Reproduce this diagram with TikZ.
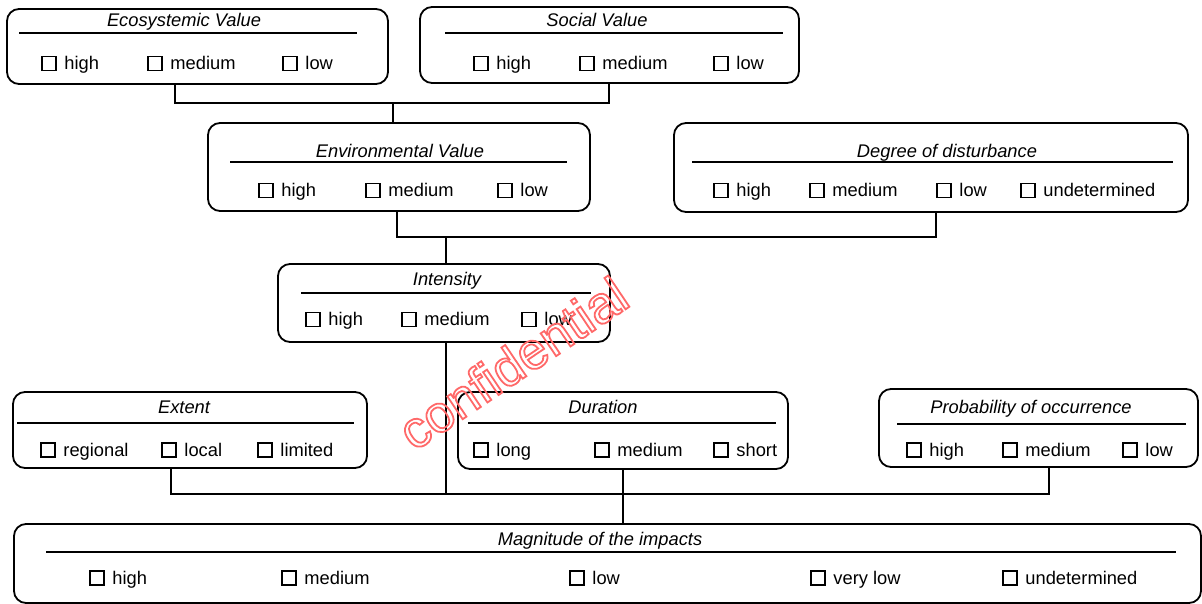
\documentclass[tikz,border=0pt]{standalone}
\usepackage{fontspec}
\setmainfont{Liberation Sans}
\definecolor{wmred}{RGB}{255,105,105}
\tikzset{
  critbox/.style={draw, line width=1.8pt, rounded corners=12pt, inner sep=0pt, outer sep=0pt},
  crittitle/.style={font=\fontsize{18.3}{21}\selectfont\itshape, anchor=base, inner sep=0pt},
  opttext/.style={font=\fontsize{18.3}{21}\selectfont, inner sep=0pt, anchor=base west},
  chk/.style={draw, line width=1.6pt, minimum size=14pt, inner sep=0pt, outer sep=0pt},
  uline/.style={line width=1.6pt},
  link/.style={line width=1.8pt},
  wmark/.style={font=\fontsize{52}{60}\selectfont, text=wmred, inner sep=0pt}
}
\newcommand\ckopt[4]{%
  \node[chk] (#1) at (#2+7.75,#3) {};
  \node[opttext] (#1t) at ([xshift=8.5pt,yshift=0.8pt]#1.south east) {#4};
}
\begin{document}
\begin{tikzpicture}[x=1pt,y=-1pt]
\useasboundingbox (0,0) rectangle (1202,604);

% Ecosystemic Value
\node[critbox, minimum width=381pt, minimum height=75pt] (eco) at (197.5,46.5) {};
\node[crittitle] (ecoT) at (184,27) {Ecosystemic Value};
\draw[uline] (19,33) -- (357,33);
\ckopt{eco1}{41}{63.5}{high}
\ckopt{eco2}{147}{63.5}{medium}
\ckopt{eco3}{282}{63.5}{low}

% Social Value
\node[critbox, minimum width=379pt, minimum height=76pt] (soc) at (609.5,45) {};
\node[crittitle] (socT) at (597,27) {Social Value};
\draw[uline] (445,33) -- (783,33);
\ckopt{soc1}{473}{63.5}{high}
\ckopt{soc2}{579}{63.5}{medium}
\ckopt{soc3}{713}{63.5}{low}

% Environmental Value
\node[critbox, minimum width=382pt, minimum height=88pt] (env) at (399,167) {};
\node[crittitle] (envT) at (400,158) {Environmental Value};
\draw[uline] (230,162) -- (567,162);
\ckopt{env1}{258}{190.5}{high}
\ckopt{env2}{365}{190.5}{medium}
\ckopt{env3}{497}{190.5}{low}

% Degree of disturbance
\node[critbox, minimum width=514pt, minimum height=89pt] (deg) at (931,167.5) {};
\node[crittitle] (degT) at (947,158) {Degree of disturbance};
\draw[uline] (692,162) -- (1173,162);
\ckopt{deg1}{713}{190.5}{high}
\ckopt{deg2}{809}{190.5}{medium}
\ckopt{deg3}{936}{190.5}{low}
\ckopt{deg4}{1020}{190.5}{undetermined}

% Intensity
\node[critbox, minimum width=332pt, minimum height=78pt] (int) at (444,303) {};
\node[crittitle] (intT) at (447,285) {Intensity};
\draw[uline] (301,293) -- (591,293);
\ckopt{int1}{305}{319.5}{high}
\ckopt{int2}{401}{319.5}{medium}
\ckopt{int3}{521}{319.5}{low}

% Extent
\node[critbox, minimum width=354pt, minimum height=76pt] (ext) at (190,430) {};
\node[crittitle] (extT) at (184,413) {Extent};
\draw[uline] (17,423) -- (354,423);
\ckopt{ext1}{40}{450}{regional}
\ckopt{ext2}{161}{450}{local}
\ckopt{ext3}{257}{450}{limited}

% Duration
\node[critbox, minimum width=330pt, minimum height=77pt] (dur) at (623,430.5) {};
\node[crittitle] (durT) at (603,413) {Duration};
\draw[uline] (468,423) -- (776,423);
\ckopt{dur1}{473}{450}{long}
\ckopt{dur2}{594}{450}{medium}
\ckopt{dur3}{713}{450}{short}

% Probability of occurrence
\node[critbox, minimum width=319pt, minimum height=78pt] (prob) at (1038.5,428) {};
\node[crittitle] (probT) at (1031,413) {Probability of occurrence};
\draw[uline] (897,424) -- (1186,424);
\ckopt{prob1}{906}{450}{high}
\ckopt{prob2}{1002}{450}{medium}
\ckopt{prob3}{1122}{450}{low}

% Magnitude of the impacts
\node[critbox, minimum width=1187pt, minimum height=79pt] (mag) at (607.5,563.5) {};
\node[crittitle] (magT) at (600,545) {Magnitude of the impacts};
\draw[uline] (46,552) -- (1176,552);
\ckopt{mag1}{89}{578}{high}
\ckopt{mag2}{281}{578}{medium}
\ckopt{mag3}{569}{578}{low}
\ckopt{mag4}{810}{578}{very low}
\ckopt{mag5}{1002}{578}{undetermined}

% connectors
\coordinate (ecoA) at (175,103);
\coordinate (socA) at (609,103);
\coordinate (envA) at (393,103);
\draw[link] (ecoA |- eco.south) -- (ecoA) -- (socA) -- (socA |- soc.south);
\draw[link] (envA) -- (envA |- env.north);

\coordinate (envB) at (397,237);
\coordinate (degB) at (936,237);
\coordinate (intA) at (446,237);
\draw[link] (envB |- env.south) -- (envB) -- (degB) -- (degB |- deg.south);
\draw[link] (intA) -- (intA |- int.north);

\coordinate (extA) at (171,494);
\coordinate (intB) at (446,494);
\coordinate (durA) at (623,494);
\coordinate (probA) at (1049,494);
\draw[link] (extA |- ext.south) -- (extA) -- (probA) -- (probA |- prob.south);
\draw[link] (intB |- int.south) -- (intB);
\draw[link] (durA |- dur.south) -- (durA |- mag.north);

% watermark (outlined text)
\node[wmark, rotate=34, anchor=base west] (wm) at (414,452)
  {\special{pdf:code 1 Tr 1.8 w}confidential\special{pdf:code 0 Tr}};
\end{tikzpicture}
\end{document}
